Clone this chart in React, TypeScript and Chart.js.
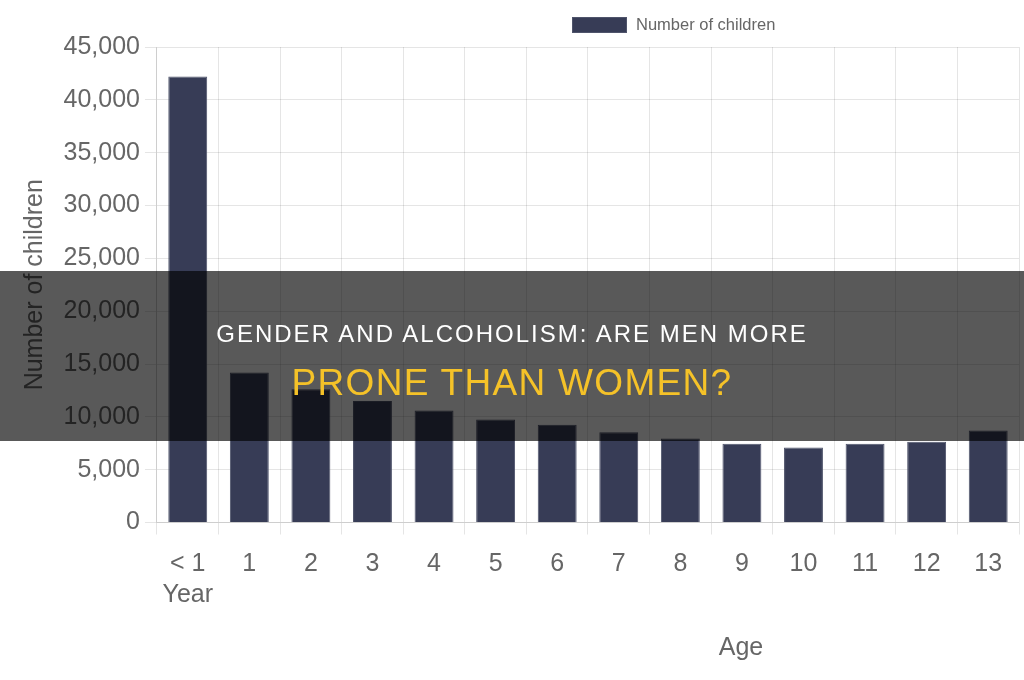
import React, { useEffect, useRef } from "react";
import { Chart, registerables } from "chart.js";

Chart.register(...registerables);

// Children counted by single year of age
const ageLabels: (string | string[])[] = [
  ["< 1", "Year"], "1", "2", "3", "4", "5", "6", "7", "8", "9", "10", "11", "12", "13",
];
const childrenCounts: number[] = [
  42200, 14200, 12600, 11500, 10600, 9750, 9250, 8550, 7950, 7450, 7100, 7450, 7650, 8700,
];
const seriesLabel = "Number of children";
const yAxisTitle = "Number of children";
const xAxisTitle = "Age";
const headlineTop = "GENDER AND ALCOHOLISM: ARE MEN MORE";
const headlineBottom = "PRONE THAN WOMEN?";

const FONT = "'Liberation Sans', Arial, Helvetica, sans-serif";
const BAR_FILL = "#373c56";
const BAR_EDGE = "#4f546b";
const TEXT_GREY = "#666666";

// Single-item legend drawn above the plot area from the dataset itself
const topLegend = {
  id: "topLegend",
  afterDraw(chart: any, _args: any, opts: any) {
    const ds = chart.data.datasets[0];
    const ctx = chart.ctx;
    ctx.save();
    ctx.fillStyle = ds.backgroundColor;
    ctx.strokeStyle = ds.borderColor;
    ctx.lineWidth = 1;
    ctx.fillRect(opts.x, opts.y, opts.boxWidth, opts.boxHeight);
    ctx.strokeRect(opts.x + 0.5, opts.y + 0.5, opts.boxWidth - 1, opts.boxHeight - 1);
    ctx.fillStyle = TEXT_GREY;
    ctx.font = `${opts.fontSize}px ${FONT}`;
    ctx.textBaseline = "middle";
    ctx.textAlign = "left";
    ctx.fillText(ds.label, opts.x + opts.boxWidth + 9, opts.y + opts.boxHeight / 2 + 0.5);
    ctx.restore();
  },
};

// Horizontal axis caption placed below the tick labels
const bottomCaption = {
  id: "bottomCaption",
  afterDraw(chart: any, _args: any, opts: any) {
    const ctx = chart.ctx;
    ctx.save();
    ctx.fillStyle = TEXT_GREY;
    ctx.font = `${opts.fontSize}px ${FONT}`;
    ctx.textAlign = "center";
    ctx.textBaseline = "middle";
    ctx.fillText(opts.text, opts.x, opts.y);
    ctx.restore();
  },
};

export default function App() {
  const canvasRef = useRef<HTMLCanvasElement | null>(null);

  useEffect(() => {
    if (!canvasRef.current) return;
    Chart.defaults.font.family = FONT;
    Chart.defaults.color = TEXT_GREY;
    const chart = new Chart(canvasRef.current, {
      type: "bar",
      data: {
        labels: ageLabels,
        datasets: [
          {
            label: seriesLabel,
            data: childrenCounts,
            backgroundColor: BAR_FILL,
            borderColor: BAR_EDGE,
            borderWidth: 1,
            categoryPercentage: 0.8,
            barPercentage: 0.79,
          },
        ],
      },
      options: {
        responsive: false,
        animation: false,
        devicePixelRatio: 1,
        layout: { padding: { top: 47, left: 8, right: 5, bottom: 55 } },
        plugins: {
          legend: { display: false },
          tooltip: { enabled: false },
          topLegend: { x: 572, y: 17, boxWidth: 55, boxHeight: 16, fontSize: 16.5 },
          bottomCaption: { text: xAxisTitle, x: 741, y: 648, fontSize: 25 },
        } as any,
        scales: {
          x: {
            grid: { color: "rgba(0,0,0,0.1)", tickLength: 12, offset: true },
            ticks: {
              font: { size: 25, lineHeight: 1.25 },
              color: TEXT_GREY,
              padding: 14,
              autoSkip: false,
              maxRotation: 0,
            },
          },
          y: {
            min: 0,
            max: 45000,
            grid: { color: "rgba(0,0,0,0.1)", tickLength: 12 },
            ticks: {
              stepSize: 5000,
              font: { size: 25, lineHeight: 1.25 },
              color: TEXT_GREY,
              padding: 5,
              callback: (v: any) => Number(v).toLocaleString("en-US"),
            },
            title: {
              display: true,
              text: yAxisTitle,
              font: { size: 25, lineHeight: 1.2 },
              color: TEXT_GREY,
              padding: { top: 12, bottom: 8.5 },
            },
          },
        },
      },
      plugins: [topLegend, bottomCaption],
    });
    return () => chart.destroy();
  }, []);

  return (
    <div
      style={{
        position: "absolute",
        left: 0,
        top: 0,
        width: 1024,
        height: 680,
        overflow: "hidden",
        background: "#ffffff",
      }}
    >
      <canvas ref={canvasRef} width={1024} height={680} style={{ display: "block" }} />
      <div
        style={{
          position: "absolute",
          left: 0,
          top: 271,
          width: 1024,
          height: 170,
          background: "rgba(0,0,0,0.65)",
        }}
      />
      <div
        style={{
          position: "absolute",
          left: 0,
          top: 319,
          width: 1024,
          height: 30,
          lineHeight: "30px",
          textAlign: "center",
          fontFamily: FONT,
          fontSize: 24,
          letterSpacing: "2px",
          color: "#ffffff",
          whiteSpace: "nowrap",
        }}
      >
        {headlineTop}
      </div>
      <div
        style={{
          position: "absolute",
          left: 0,
          top: 361,
          width: 1024,
          height: 44,
          lineHeight: "44px",
          textAlign: "center",
          fontFamily: FONT,
          fontSize: 37,
          letterSpacing: "1.3px",
          color: "#f5c228",
          whiteSpace: "nowrap",
        }}
      >
        {headlineBottom}
      </div>
    </div>
  );
}
